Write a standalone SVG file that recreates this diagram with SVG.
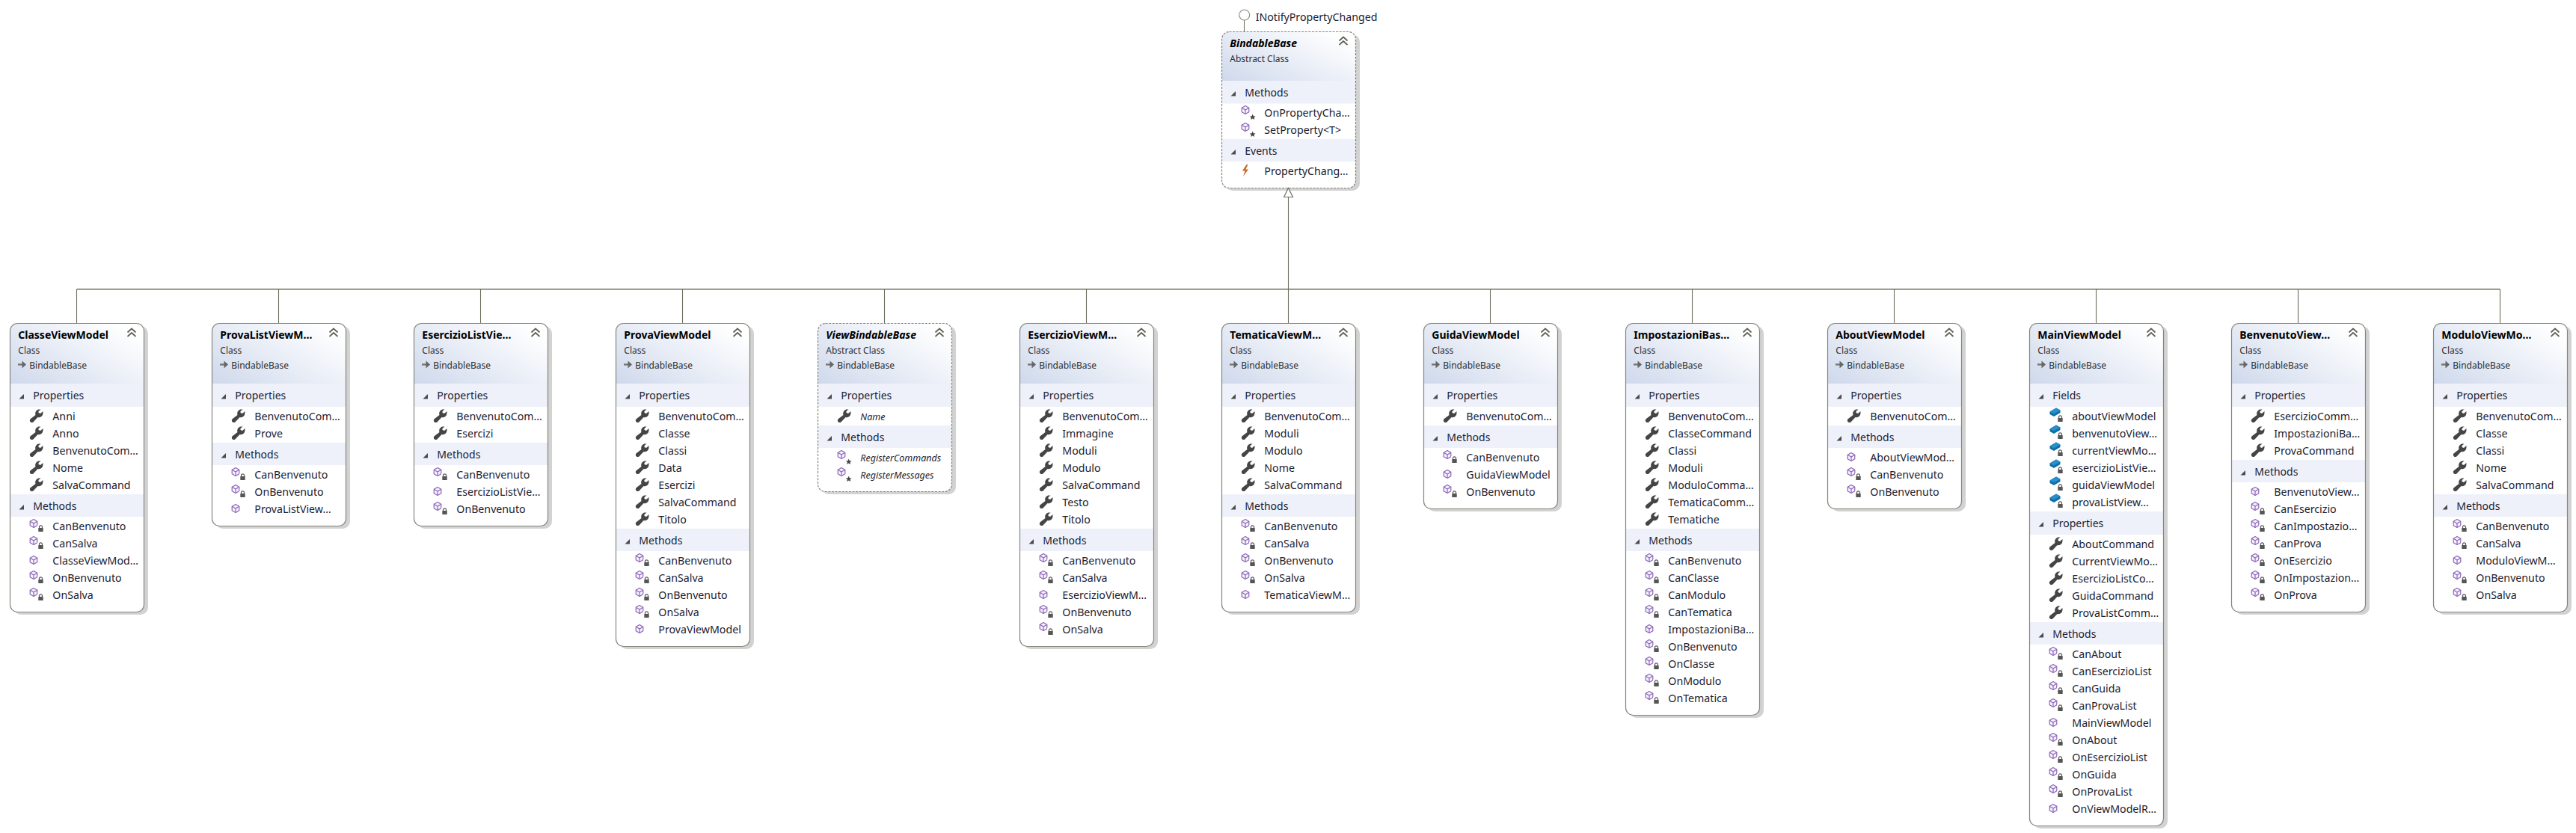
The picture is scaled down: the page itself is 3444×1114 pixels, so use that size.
<svg xmlns="http://www.w3.org/2000/svg" width="3444" height="1114" viewBox="0 0 3444 1114">
<style>
text{font-family:"Noto Sans","Open Sans","Liberation Sans",sans-serif;fill:#1c1c30}
.ti{font-size:14px;font-weight:700;fill:#000}
.m{font-size:12px;fill:#2e2e2e}
.s{font-size:14px}
.i{font-size:14.2px}
.it{font-style:italic}
.sec{fill:#eef1f9}
.sh{fill:#d2d2d2}
.bg{fill:#fff}
.bd{fill:none;stroke:#85857c;stroke-width:1.2}
.ab{stroke-dasharray:3 1.6}
.cn{fill:none;stroke:#6e6e5e;stroke-width:1.1}
</style>
<defs>
<linearGradient id="hg" x1="0" y1="1" x2="1" y2="0.25"><stop offset="0" stop-color="#cfd9ec"/><stop offset="1" stop-color="#ffffff"/></linearGradient>
<path id="h" d="M0.5 81V10A9.5 9.5 0 0 1 10 0.5H170A9.5 9.5 0 0 1 179.5 10V81Z" fill="url(#hg)"/>
<path id="ha" d="M0.5 66V10A9.5 9.5 0 0 1 10 0.5H170A9.5 9.5 0 0 1 179.5 10V66Z" fill="url(#hg)"/>
<g id="c" fill="none" stroke="#606058" stroke-width="1.7" stroke-linejoin="round"><path d="M-5.5 -1.5L0 -6.5L5.5 -1.5"/><path d="M-5.5 4L0 -1L5.5 4"/></g>
<path id="t" d="M19 14V20.5H12.5Z" fill="#4a4a4a"/>
<g id="inh"><path d="M11 55.5H18" stroke="#777" stroke-width="2.4"/><path d="M16.5 50.5L22 55.5L16.5 60.5Z" fill="#666"/></g>
<path id="w" d="M3 -8.5C-0.5 -7.5 -2 -4 -1 -1L-7.8 4.2C-9.6 6 -8.4 9 -5.8 9C-4.8 9 -4.2 8.5 -3.6 7.9L2 2C5.5 3 9 0.5 9 -4V-6L5.5 -3L3 -4V-6L6 -8.5Z" fill="#454545"/>
<g id="cube" fill="#f6f1fb" stroke="#8b66b8" stroke-width="1.2" stroke-linejoin="round"><path d="M0 -5.5L4.8 -2.8V2.8L0 5.5L-4.8 2.8V-2.8Z"/><path d="M-4.8 -2.8L0 0L4.8 -2.8M0 0V5.5" fill="none"/></g>
<g id="lk"><rect x="-4.5" y="-5" width="9" height="10.5" fill="#fff"/><path d="M-2 -1V-2.2A2 2 0 0 1 2 -2.2V-1" fill="none" stroke="#555" stroke-width="1.2"/><rect x="-3.2" y="-1" width="6.4" height="5" rx="0.6" fill="#555"/></g>
<g id="m"><use href="#cube" x="32" y="0"/></g>
<g id="pm"><use href="#cube" x="32" y="-3"/><use href="#lk" x="41.5" y="4"/></g>
<g id="pr"><use href="#cube" x="32" y="-3"/><path d="M41.7 2.5L42.8 5.2L45.6 5.4L43.5 7.2L44.2 10L41.7 8.5L39.2 10L39.9 7.2L37.8 5.4L40.6 5.2Z" fill="#444"/></g>
<g id="f"><path d="M27.5 -5.5L36 -10.5L41.5 -7.5L41.5 -4L33 1L27.5 -2Z" fill="#0f6fa8"/><path d="M27.5 -5.5L36 -10.5L41.5 -7.5L33 -2.5Z" fill="#2a8fc8"/><use href="#lk" x="41.5" y="4"/></g>
<path id="ev" d="M33.5 -8L28 0.5H31.5L29 8L36 -1.5H32.5L35.5 -8Z" fill="#c86a25"/>
<marker id="tri" markerUnits="userSpaceOnUse" markerWidth="14" markerHeight="14" refX="12.5" refY="7" orient="auto"><path d="M12.5 7L0.5 1V13Z" fill="#fff" stroke="#6e6e5e" stroke-width="1.2"/></marker>
</defs>

<text class="i" x="1678.7" y="28">INotifyPropertyChanged</text>

<g id="BindableBase" transform="translate(1633,42)">
<rect class="sh" x="5" y="4" width="180" height="209" rx="10"/><rect class="bg" x="0.5" y="0.5" width="179" height="209" rx="10"/><use href="#ha"/>
<rect class="sec" x="1" y="66" width="178" height="30.5"/><rect class="sec" x="1" y="144" width="178" height="30"/>
<rect class="bd ab" x="0.5" y="0.5" width="179" height="209" rx="10"/>
<use href="#c" x="163" y="14"/>
<text class="ti it" x="11.3" y="21">BindableBase</text><text class="m" x="11.3" y="41">Abstract Class</text>
<use href="#t" y="66"/><text class="s" x="31.3" y="87">Methods</text>
<use href="#pr" y="108"/><text class="i" x="57.3" y="114">OnPropertyCha…</text>
<use href="#pr" y="131"/><text class="i" x="57.3" y="137">SetProperty&lt;T&gt;</text>
<use href="#t" y="144"/><text class="s" x="31.3" y="165">Events</text>
<use href="#ev" y="186"/><text class="i" x="57.3" y="192">PropertyChang…</text>
</g>

<g id="ClasseViewModel" transform="translate(13,432)">
<rect class="sh" x="5" y="4" width="180" height="386" rx="10"/><rect class="bg" x="0.5" y="0.5" width="179" height="386" rx="10"/><use href="#h"/>
<rect class="sec" x="1" y="81" width="178" height="31"/><rect class="sec" x="1" y="229" width="178" height="30"/>
<rect class="bd" x="0.5" y="0.5" width="179" height="386" rx="10"/>
<use href="#c" x="163" y="14"/><use href="#inh"/>
<text class="ti" x="11.3" y="21">ClasseViewModel</text><text class="m" x="11.3" y="41">Class</text><text class="m" x="26.3" y="61">BindableBase</text>
<use href="#t" y="81"/><text class="s" x="31.3" y="102">Properties</text>
<use href="#w" x="35.5" y="124"/><text class="i" x="57.3" y="130">Anni</text>
<use href="#w" x="35.5" y="147"/><text class="i" x="57.3" y="153">Anno</text>
<use href="#w" x="35.5" y="170"/><text class="i" x="57.3" y="176">BenvenutoCom…</text>
<use href="#w" x="35.5" y="193"/><text class="i" x="57.3" y="199">Nome</text>
<use href="#w" x="35.5" y="216"/><text class="i" x="57.3" y="222">SalvaCommand</text>
<use href="#t" y="229"/><text class="s" x="31.3" y="250">Methods</text>
<use href="#pm" y="271"/><text class="i" x="57.3" y="276.5">CanBenvenuto</text>
<use href="#pm" y="294"/><text class="i" x="57.3" y="299.5">CanSalva</text>
<use href="#m" y="317"/><text class="i" x="57.3" y="322.5">ClasseViewMod…</text>
<use href="#pm" y="340"/><text class="i" x="57.3" y="345.5">OnBenvenuto</text>
<use href="#pm" y="363"/><text class="i" x="57.3" y="368.5">OnSalva</text>
</g>

<g id="ProvaListViewModel" transform="translate(283,432)">
<rect class="sh" x="5" y="4" width="180" height="271" rx="10"/><rect class="bg" x="0.5" y="0.5" width="179" height="271" rx="10"/><use href="#h"/>
<rect class="sec" x="1" y="81" width="178" height="31"/><rect class="sec" x="1" y="160" width="178" height="30"/>
<rect class="bd" x="0.5" y="0.5" width="179" height="271" rx="10"/>
<use href="#c" x="163" y="14"/><use href="#inh"/>
<text class="ti" x="11.3" y="21">ProvaListViewM…</text><text class="m" x="11.3" y="41">Class</text><text class="m" x="26.3" y="61">BindableBase</text>
<use href="#t" y="81"/><text class="s" x="31.3" y="102">Properties</text>
<use href="#w" x="35.5" y="124"/><text class="i" x="57.3" y="130">BenvenutoCom…</text>
<use href="#w" x="35.5" y="147"/><text class="i" x="57.3" y="153">Prove</text>
<use href="#t" y="160"/><text class="s" x="31.3" y="181">Methods</text>
<use href="#pm" y="202"/><text class="i" x="57.3" y="207.5">CanBenvenuto</text>
<use href="#pm" y="225"/><text class="i" x="57.3" y="230.5">OnBenvenuto</text>
<use href="#m" y="248"/><text class="i" x="57.3" y="253.5">ProvaListView…</text>
</g>

<g id="EsercizioListViewModel" transform="translate(553,432)">
<rect class="sh" x="5" y="4" width="180" height="271" rx="10"/><rect class="bg" x="0.5" y="0.5" width="179" height="271" rx="10"/><use href="#h"/>
<rect class="sec" x="1" y="81" width="178" height="31"/><rect class="sec" x="1" y="160" width="178" height="30"/>
<rect class="bd" x="0.5" y="0.5" width="179" height="271" rx="10"/>
<use href="#c" x="163" y="14"/><use href="#inh"/>
<text class="ti" x="11.3" y="21">EsercizioListVie…</text><text class="m" x="11.3" y="41">Class</text><text class="m" x="26.3" y="61">BindableBase</text>
<use href="#t" y="81"/><text class="s" x="31.3" y="102">Properties</text>
<use href="#w" x="35.5" y="124"/><text class="i" x="57.3" y="130">BenvenutoCom…</text>
<use href="#w" x="35.5" y="147"/><text class="i" x="57.3" y="153">Esercizi</text>
<use href="#t" y="160"/><text class="s" x="31.3" y="181">Methods</text>
<use href="#pm" y="202"/><text class="i" x="57.3" y="207.5">CanBenvenuto</text>
<use href="#m" y="225"/><text class="i" x="57.3" y="230.5">EsercizioListVie…</text>
<use href="#pm" y="248"/><text class="i" x="57.3" y="253.5">OnBenvenuto</text>
</g>

<g id="ProvaViewModel" transform="translate(823,432)">
<rect class="sh" x="5" y="4" width="180" height="432" rx="10"/><rect class="bg" x="0.5" y="0.5" width="179" height="432" rx="10"/><use href="#h"/>
<rect class="sec" x="1" y="81" width="178" height="31"/><rect class="sec" x="1" y="275" width="178" height="30"/>
<rect class="bd" x="0.5" y="0.5" width="179" height="432" rx="10"/>
<use href="#c" x="163" y="14"/><use href="#inh"/>
<text class="ti" x="11.3" y="21">ProvaViewModel</text><text class="m" x="11.3" y="41">Class</text><text class="m" x="26.3" y="61">BindableBase</text>
<use href="#t" y="81"/><text class="s" x="31.3" y="102">Properties</text>
<use href="#w" x="35.5" y="124"/><text class="i" x="57.3" y="130">BenvenutoCom…</text>
<use href="#w" x="35.5" y="147"/><text class="i" x="57.3" y="153">Classe</text>
<use href="#w" x="35.5" y="170"/><text class="i" x="57.3" y="176">Classi</text>
<use href="#w" x="35.5" y="193"/><text class="i" x="57.3" y="199">Data</text>
<use href="#w" x="35.5" y="216"/><text class="i" x="57.3" y="222">Esercizi</text>
<use href="#w" x="35.5" y="239"/><text class="i" x="57.3" y="245">SalvaCommand</text>
<use href="#w" x="35.5" y="262"/><text class="i" x="57.3" y="268">Titolo</text>
<use href="#t" y="275"/><text class="s" x="31.3" y="296">Methods</text>
<use href="#pm" y="317"/><text class="i" x="57.3" y="322.5">CanBenvenuto</text>
<use href="#pm" y="340"/><text class="i" x="57.3" y="345.5">CanSalva</text>
<use href="#pm" y="363"/><text class="i" x="57.3" y="368.5">OnBenvenuto</text>
<use href="#pm" y="386"/><text class="i" x="57.3" y="391.5">OnSalva</text>
<use href="#m" y="409"/><text class="i" x="57.3" y="414.5">ProvaViewModel</text>
</g>

<g id="ViewBindableBase" transform="translate(1093,432)">
<rect class="sh" x="5" y="4" width="180" height="225" rx="10"/><rect class="bg" x="0.5" y="0.5" width="179" height="225" rx="10"/><use href="#h"/>
<rect class="sec" x="1" y="81" width="178" height="31"/><rect class="sec" x="1" y="137" width="178" height="30"/>
<rect class="bd ab" x="0.5" y="0.5" width="179" height="225" rx="10"/>
<use href="#c" x="163" y="14"/><use href="#inh"/>
<text class="ti it" x="11.3" y="21">ViewBindableBase</text><text class="m" x="11.3" y="41">Abstract Class</text><text class="m" x="26.3" y="61">BindableBase</text>
<use href="#t" y="81"/><text class="s" x="31.3" y="102">Properties</text>
<use href="#w" x="35.5" y="124"/><text class="i it" x="57.3" y="130" style="font-size:12.5px">Name</text>
<use href="#t" y="137"/><text class="s" x="31.3" y="158">Methods</text>
<use href="#pr" y="179"/><text class="i it" x="57.3" y="185" style="font-size:12.5px">RegisterCommands</text>
<use href="#pr" y="202"/><text class="i it" x="57.3" y="208" style="font-size:12.5px">RegisterMessages</text>
</g>

<g id="EsercizioViewModel" transform="translate(1363,432)">
<rect class="sh" x="5" y="4" width="180" height="432" rx="10"/><rect class="bg" x="0.5" y="0.5" width="179" height="432" rx="10"/><use href="#h"/>
<rect class="sec" x="1" y="81" width="178" height="31"/><rect class="sec" x="1" y="275" width="178" height="30"/>
<rect class="bd" x="0.5" y="0.5" width="179" height="432" rx="10"/>
<use href="#c" x="163" y="14"/><use href="#inh"/>
<text class="ti" x="11.3" y="21">EsercizioViewM…</text><text class="m" x="11.3" y="41">Class</text><text class="m" x="26.3" y="61">BindableBase</text>
<use href="#t" y="81"/><text class="s" x="31.3" y="102">Properties</text>
<use href="#w" x="35.5" y="124"/><text class="i" x="57.3" y="130">BenvenutoCom…</text>
<use href="#w" x="35.5" y="147"/><text class="i" x="57.3" y="153">Immagine</text>
<use href="#w" x="35.5" y="170"/><text class="i" x="57.3" y="176">Moduli</text>
<use href="#w" x="35.5" y="193"/><text class="i" x="57.3" y="199">Modulo</text>
<use href="#w" x="35.5" y="216"/><text class="i" x="57.3" y="222">SalvaCommand</text>
<use href="#w" x="35.5" y="239"/><text class="i" x="57.3" y="245">Testo</text>
<use href="#w" x="35.5" y="262"/><text class="i" x="57.3" y="268">Titolo</text>
<use href="#t" y="275"/><text class="s" x="31.3" y="296">Methods</text>
<use href="#pm" y="317"/><text class="i" x="57.3" y="322.5">CanBenvenuto</text>
<use href="#pm" y="340"/><text class="i" x="57.3" y="345.5">CanSalva</text>
<use href="#m" y="363"/><text class="i" x="57.3" y="368.5">EsercizioViewM…</text>
<use href="#pm" y="386"/><text class="i" x="57.3" y="391.5">OnBenvenuto</text>
<use href="#pm" y="409"/><text class="i" x="57.3" y="414.5">OnSalva</text>
</g>

<g id="TematicaViewModel" transform="translate(1633,432)">
<rect class="sh" x="5" y="4" width="180" height="386" rx="10"/><rect class="bg" x="0.5" y="0.5" width="179" height="386" rx="10"/><use href="#h"/>
<rect class="sec" x="1" y="81" width="178" height="31"/><rect class="sec" x="1" y="229" width="178" height="30"/>
<rect class="bd" x="0.5" y="0.5" width="179" height="386" rx="10"/>
<use href="#c" x="163" y="14"/><use href="#inh"/>
<text class="ti" x="11.3" y="21">TematicaViewM…</text><text class="m" x="11.3" y="41">Class</text><text class="m" x="26.3" y="61">BindableBase</text>
<use href="#t" y="81"/><text class="s" x="31.3" y="102">Properties</text>
<use href="#w" x="35.5" y="124"/><text class="i" x="57.3" y="130">BenvenutoCom…</text>
<use href="#w" x="35.5" y="147"/><text class="i" x="57.3" y="153">Moduli</text>
<use href="#w" x="35.5" y="170"/><text class="i" x="57.3" y="176">Modulo</text>
<use href="#w" x="35.5" y="193"/><text class="i" x="57.3" y="199">Nome</text>
<use href="#w" x="35.5" y="216"/><text class="i" x="57.3" y="222">SalvaCommand</text>
<use href="#t" y="229"/><text class="s" x="31.3" y="250">Methods</text>
<use href="#pm" y="271"/><text class="i" x="57.3" y="276.5">CanBenvenuto</text>
<use href="#pm" y="294"/><text class="i" x="57.3" y="299.5">CanSalva</text>
<use href="#pm" y="317"/><text class="i" x="57.3" y="322.5">OnBenvenuto</text>
<use href="#pm" y="340"/><text class="i" x="57.3" y="345.5">OnSalva</text>
<use href="#m" y="363"/><text class="i" x="57.3" y="368.5">TematicaViewM…</text>
</g>

<g id="GuidaViewModel" transform="translate(1903,432)">
<rect class="sh" x="5" y="4" width="180" height="248" rx="10"/><rect class="bg" x="0.5" y="0.5" width="179" height="248" rx="10"/><use href="#h"/>
<rect class="sec" x="1" y="81" width="178" height="31"/><rect class="sec" x="1" y="137" width="178" height="30"/>
<rect class="bd" x="0.5" y="0.5" width="179" height="248" rx="10"/>
<use href="#c" x="163" y="14"/><use href="#inh"/>
<text class="ti" x="11.3" y="21">GuidaViewModel</text><text class="m" x="11.3" y="41">Class</text><text class="m" x="26.3" y="61">BindableBase</text>
<use href="#t" y="81"/><text class="s" x="31.3" y="102">Properties</text>
<use href="#w" x="35.5" y="124"/><text class="i" x="57.3" y="130">BenvenutoCom…</text>
<use href="#t" y="137"/><text class="s" x="31.3" y="158">Methods</text>
<use href="#pm" y="179"/><text class="i" x="57.3" y="184.5">CanBenvenuto</text>
<use href="#m" y="202"/><text class="i" x="57.3" y="207.5">GuidaViewModel</text>
<use href="#pm" y="225"/><text class="i" x="57.3" y="230.5">OnBenvenuto</text>
</g>

<g id="ImpostazioniBaseViewModel" transform="translate(2173,432)">
<rect class="sh" x="5" y="4" width="180" height="524" rx="10"/><rect class="bg" x="0.5" y="0.5" width="179" height="524" rx="10"/><use href="#h"/>
<rect class="sec" x="1" y="81" width="178" height="31"/><rect class="sec" x="1" y="275" width="178" height="30"/>
<rect class="bd" x="0.5" y="0.5" width="179" height="524" rx="10"/>
<use href="#c" x="163" y="14"/><use href="#inh"/>
<text class="ti" x="11.3" y="21">ImpostazioniBas…</text><text class="m" x="11.3" y="41">Class</text><text class="m" x="26.3" y="61">BindableBase</text>
<use href="#t" y="81"/><text class="s" x="31.3" y="102">Properties</text>
<use href="#w" x="35.5" y="124"/><text class="i" x="57.3" y="130">BenvenutoCom…</text>
<use href="#w" x="35.5" y="147"/><text class="i" x="57.3" y="153">ClasseCommand</text>
<use href="#w" x="35.5" y="170"/><text class="i" x="57.3" y="176">Classi</text>
<use href="#w" x="35.5" y="193"/><text class="i" x="57.3" y="199">Moduli</text>
<use href="#w" x="35.5" y="216"/><text class="i" x="57.3" y="222">ModuloComma…</text>
<use href="#w" x="35.5" y="239"/><text class="i" x="57.3" y="245">TematicaComm…</text>
<use href="#w" x="35.5" y="262"/><text class="i" x="57.3" y="268">Tematiche</text>
<use href="#t" y="275"/><text class="s" x="31.3" y="296">Methods</text>
<use href="#pm" y="317"/><text class="i" x="57.3" y="322.5">CanBenvenuto</text>
<use href="#pm" y="340"/><text class="i" x="57.3" y="345.5">CanClasse</text>
<use href="#pm" y="363"/><text class="i" x="57.3" y="368.5">CanModulo</text>
<use href="#pm" y="386"/><text class="i" x="57.3" y="391.5">CanTematica</text>
<use href="#m" y="409"/><text class="i" x="57.3" y="414.5">ImpostazioniBa…</text>
<use href="#pm" y="432"/><text class="i" x="57.3" y="437.5">OnBenvenuto</text>
<use href="#pm" y="455"/><text class="i" x="57.3" y="460.5">OnClasse</text>
<use href="#pm" y="478"/><text class="i" x="57.3" y="483.5">OnModulo</text>
<use href="#pm" y="501"/><text class="i" x="57.3" y="506.5">OnTematica</text>
</g>

<g id="AboutViewModel" transform="translate(2443,432)">
<rect class="sh" x="5" y="4" width="180" height="248" rx="10"/><rect class="bg" x="0.5" y="0.5" width="179" height="248" rx="10"/><use href="#h"/>
<rect class="sec" x="1" y="81" width="178" height="31"/><rect class="sec" x="1" y="137" width="178" height="30"/>
<rect class="bd" x="0.5" y="0.5" width="179" height="248" rx="10"/>
<use href="#c" x="163" y="14"/><use href="#inh"/>
<text class="ti" x="11.3" y="21">AboutViewModel</text><text class="m" x="11.3" y="41">Class</text><text class="m" x="26.3" y="61">BindableBase</text>
<use href="#t" y="81"/><text class="s" x="31.3" y="102">Properties</text>
<use href="#w" x="35.5" y="124"/><text class="i" x="57.3" y="130">BenvenutoCom…</text>
<use href="#t" y="137"/><text class="s" x="31.3" y="158">Methods</text>
<use href="#m" y="179"/><text class="i" x="57.3" y="184.5">AboutViewMod…</text>
<use href="#pm" y="202"/><text class="i" x="57.3" y="207.5">CanBenvenuto</text>
<use href="#pm" y="225"/><text class="i" x="57.3" y="230.5">OnBenvenuto</text>
</g>

<g id="MainViewModel" transform="translate(2713,432)">
<rect class="sh" x="5" y="4" width="180" height="672" rx="10"/><rect class="bg" x="0.5" y="0.5" width="179" height="672" rx="10"/><use href="#h"/>
<rect class="sec" x="1" y="81" width="178" height="31"/><rect class="sec" x="1" y="252" width="178" height="31"/><rect class="sec" x="1" y="400" width="178" height="30"/>
<rect class="bd" x="0.5" y="0.5" width="179" height="672" rx="10"/>
<use href="#c" x="163" y="14"/><use href="#inh"/>
<text class="ti" x="11.3" y="21">MainViewModel</text><text class="m" x="11.3" y="41">Class</text><text class="m" x="26.3" y="61">BindableBase</text>
<use href="#t" y="81"/><text class="s" x="31.3" y="102">Fields</text>
<use href="#f" y="124"/><text class="i" x="57.3" y="130">aboutViewModel</text>
<use href="#f" y="147"/><text class="i" x="57.3" y="153">benvenutoView…</text>
<use href="#f" y="170"/><text class="i" x="57.3" y="176">currentViewMo…</text>
<use href="#f" y="193"/><text class="i" x="57.3" y="199">esercizioListVie…</text>
<use href="#f" y="216"/><text class="i" x="57.3" y="222">guidaViewModel</text>
<use href="#f" y="239"/><text class="i" x="57.3" y="245">provaListView…</text>
<use href="#t" y="252"/><text class="s" x="31.3" y="273">Properties</text>
<use href="#w" x="35.5" y="295"/><text class="i" x="57.3" y="301">AboutCommand</text>
<use href="#w" x="35.5" y="318"/><text class="i" x="57.3" y="324">CurrentViewMo…</text>
<use href="#w" x="35.5" y="341"/><text class="i" x="57.3" y="347">EsercizioListCo…</text>
<use href="#w" x="35.5" y="364"/><text class="i" x="57.3" y="370">GuidaCommand</text>
<use href="#w" x="35.5" y="387"/><text class="i" x="57.3" y="393">ProvaListComm…</text>
<use href="#t" y="400"/><text class="s" x="31.3" y="421">Methods</text>
<use href="#pm" y="442"/><text class="i" x="57.3" y="447.5">CanAbout</text>
<use href="#pm" y="465"/><text class="i" x="57.3" y="470.5">CanEsercizioList</text>
<use href="#pm" y="488"/><text class="i" x="57.3" y="493.5">CanGuida</text>
<use href="#pm" y="511"/><text class="i" x="57.3" y="516.5">CanProvaList</text>
<use href="#m" y="534"/><text class="i" x="57.3" y="539.5">MainViewModel</text>
<use href="#pm" y="557"/><text class="i" x="57.3" y="562.5">OnAbout</text>
<use href="#pm" y="580"/><text class="i" x="57.3" y="585.5">OnEsercizioList</text>
<use href="#pm" y="603"/><text class="i" x="57.3" y="608.5">OnGuida</text>
<use href="#pm" y="626"/><text class="i" x="57.3" y="631.5">OnProvaList</text>
<use href="#m" y="649"/><text class="i" x="57.3" y="654.5">OnViewModelR…</text>
</g>

<g id="BenvenutoViewModel" transform="translate(2983,432)">
<rect class="sh" x="5" y="4" width="180" height="386" rx="10"/><rect class="bg" x="0.5" y="0.5" width="179" height="386" rx="10"/><use href="#h"/>
<rect class="sec" x="1" y="81" width="178" height="31"/><rect class="sec" x="1" y="183" width="178" height="30"/>
<rect class="bd" x="0.5" y="0.5" width="179" height="386" rx="10"/>
<use href="#c" x="163" y="14"/><use href="#inh"/>
<text class="ti" x="11.3" y="21">BenvenutoView…</text><text class="m" x="11.3" y="41">Class</text><text class="m" x="26.3" y="61">BindableBase</text>
<use href="#t" y="81"/><text class="s" x="31.3" y="102">Properties</text>
<use href="#w" x="35.5" y="124"/><text class="i" x="57.3" y="130">EsercizioComm…</text>
<use href="#w" x="35.5" y="147"/><text class="i" x="57.3" y="153">ImpostazioniBa…</text>
<use href="#w" x="35.5" y="170"/><text class="i" x="57.3" y="176">ProvaCommand</text>
<use href="#t" y="183"/><text class="s" x="31.3" y="204">Methods</text>
<use href="#m" y="225"/><text class="i" x="57.3" y="230.5">BenvenutoView…</text>
<use href="#pm" y="248"/><text class="i" x="57.3" y="253.5">CanEsercizio</text>
<use href="#pm" y="271"/><text class="i" x="57.3" y="276.5">CanImpostazio…</text>
<use href="#pm" y="294"/><text class="i" x="57.3" y="299.5">CanProva</text>
<use href="#pm" y="317"/><text class="i" x="57.3" y="322.5">OnEsercizio</text>
<use href="#pm" y="340"/><text class="i" x="57.3" y="345.5">OnImpostazion…</text>
<use href="#pm" y="363"/><text class="i" x="57.3" y="368.5">OnProva</text>
</g>

<g id="ModuloViewModel" transform="translate(3253,432)">
<rect class="sh" x="5" y="4" width="180" height="386" rx="10"/><rect class="bg" x="0.5" y="0.5" width="179" height="386" rx="10"/><use href="#h"/>
<rect class="sec" x="1" y="81" width="178" height="31"/><rect class="sec" x="1" y="229" width="178" height="30"/>
<rect class="bd" x="0.5" y="0.5" width="179" height="386" rx="10"/>
<use href="#c" x="163" y="14"/><use href="#inh"/>
<text class="ti" x="11.3" y="21">ModuloViewMo…</text><text class="m" x="11.3" y="41">Class</text><text class="m" x="26.3" y="61">BindableBase</text>
<use href="#t" y="81"/><text class="s" x="31.3" y="102">Properties</text>
<use href="#w" x="35.5" y="124"/><text class="i" x="57.3" y="130">BenvenutoCom…</text>
<use href="#w" x="35.5" y="147"/><text class="i" x="57.3" y="153">Classe</text>
<use href="#w" x="35.5" y="170"/><text class="i" x="57.3" y="176">Classi</text>
<use href="#w" x="35.5" y="193"/><text class="i" x="57.3" y="199">Nome</text>
<use href="#w" x="35.5" y="216"/><text class="i" x="57.3" y="222">SalvaCommand</text>
<use href="#t" y="229"/><text class="s" x="31.3" y="250">Methods</text>
<use href="#pm" y="271"/><text class="i" x="57.3" y="276.5">CanBenvenuto</text>
<use href="#pm" y="294"/><text class="i" x="57.3" y="299.5">CanSalva</text>
<use href="#m" y="317"/><text class="i" x="57.3" y="322.5">ModuloViewM…</text>
<use href="#pm" y="340"/><text class="i" x="57.3" y="345.5">OnBenvenuto</text>
<use href="#pm" y="363"/><text class="i" x="57.3" y="368.5">OnSalva</text>
</g>

<g id="connectors">
<path class="cn" d="M1663.5 27V42"/>
<circle class="cn" cx="1663.7" cy="20" r="7" style="stroke:#8a8a80"/>
<path class="cn" d="M102.5 386.7H3342.5" style="stroke-width:1.6"/>
<path class="cn" d="M102.5 387V432M372.5 387V432M642.5 387V432M912.5 387V432M1182.5 387V432M1452.5 387V432M1992.5 387V432M2262.5 387V432M2532.5 387V432M2802.5 387V432M3072.5 387V432M3342.5 387V432"/>
<path class="cn" d="M1722.5 432V251.5" marker-end="url(#tri)"/>
</g>
</svg>
